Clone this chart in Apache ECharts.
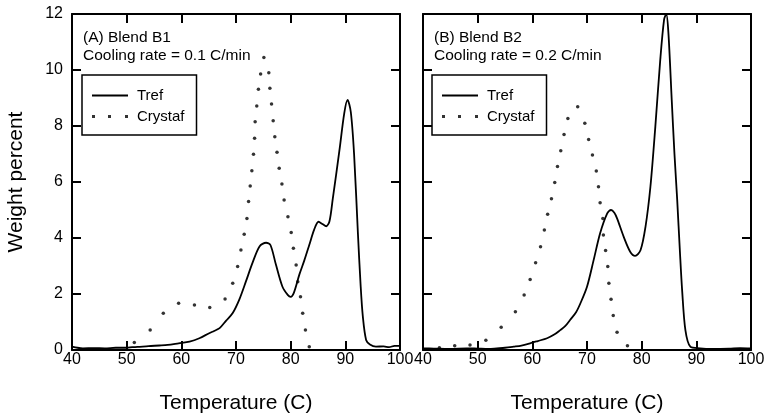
<!DOCTYPE html>
<html>
<head>
<meta charset="utf-8">
<script src="https://cdn.jsdelivr.net/npm/echarts@6/dist/echarts.min.js"></script>
<style>
  html, body { margin: 0; padding: 0; background: #fff; }
  #main { width: 766px; height: 415px; }
</style>
</head>
<body>
<div id="main"></div>
<script>
// panel A - Tref (solid line)
const trefA_T = [40, 41, 42, 44, 46, 48, 50, 51, 52, 54, 56, 57.5, 59.5, 61.5, 63.3, 65.1, 66, 67, 68.2, 69.4, 70.6, 71.8, 73.0, 74.3, 75.5, 76.3, 77.3, 78.5, 79.5, 80.0, 80.6, 81.6, 82.5, 83.4, 84.3, 85.1, 85.8, 86.5, 87.1, 87.7, 88.9, 89.8, 90.4, 91.0, 91.6, 92.3, 92.8, 93.2, 93.8, 94.5, 95.6, 97, 98, 99, 100]
const trefA_W = [0.12, 0.08, 0.06, 0.07, 0.06, 0.08, 0.08, 0.10, 0.11, 0.14, 0.16, 0.18, 0.24, 0.30, 0.42, 0.60, 0.68, 0.78, 1.05, 1.32, 1.80, 2.44, 3.10, 3.70, 3.83, 3.75, 3.05, 2.26, 1.96, 1.90, 2.05, 2.70, 3.20, 3.75, 4.30, 4.58, 4.50, 4.42, 4.60, 5.40, 7.10, 8.45, 8.93, 8.50, 7.00, 4.17, 2.30, 1.20, 0.36, 0.20, 0.12, 0.13, 0.10, 0.15, 0.15]

// panel A - Crystaf (dots)
const crysA_T = [51.4, 54.3, 56.7, 59.5, 62.4, 65.2, 68.0, 69.4, 70.3, 70.9, 71.5, 72.0, 72.3, 72.6, 72.9, 73.2, 73.4, 73.5, 73.8, 74.1, 74.5, 75.1, 76.0, 76.2, 76.5, 76.8, 77.1, 77.5, 77.9, 78.4, 78.8, 79.5, 80.1, 80.5, 81.0, 81.3, 81.8, 82.2, 82.7, 83.4]
const crysA_W = [0.27, 0.71, 1.31, 1.67, 1.61, 1.52, 1.82, 2.38, 2.98, 3.57, 4.13, 4.70, 5.30, 5.86, 6.40, 6.99, 7.56, 8.15, 8.71, 9.31, 9.86, 10.45, 9.90, 9.35, 8.79, 8.19, 7.62, 7.06, 6.49, 5.93, 5.36, 4.76, 4.20, 3.63, 3.04, 2.44, 1.90, 1.31, 0.71, 0.12]

// panel B - Tref
const trefB_T = [40, 42, 45, 48, 50, 52, 53.5, 55, 56.6, 58, 59.6, 61, 62.7, 64, 65.1, 66.0, 66.9, 68.0, 68.8, 70.0, 71.2, 72.4, 73.7, 74.4, 75.0, 75.5, 76.7, 77.9, 78.8, 79.8, 80.7, 81.6, 82.5, 83.4, 84.1, 84.5, 84.9, 85.5, 86.0, 86.5, 87.0, 87.4, 88.0, 88.9, 90.7, 93, 96, 98, 100]
const trefB_W = [0.06, 0.05, 0.04, 0.06, 0.05, 0.04, 0.06, 0.08, 0.12, 0.16, 0.24, 0.32, 0.42, 0.55, 0.71, 0.85, 1.07, 1.35, 1.67, 2.26, 3.20, 4.17, 4.88, 5.00, 4.90, 4.70, 4.05, 3.51, 3.36, 3.57, 4.40, 5.83, 7.98, 10.36, 11.80, 12.00, 11.30, 8.93, 7.00, 5.36, 3.50, 2.14, 0.71, 0.12, 0.06, 0.04, 0.05, 0.07, 0.06]

// panel B - Crystaf
const crysB_T = [43.0, 45.8, 48.6, 51.5, 54.3, 56.9, 58.5, 59.6, 60.6, 61.5, 62.2, 62.8, 63.5, 64.1, 64.6, 65.2, 65.8, 66.5, 68.3, 69.6, 70.3, 71.0, 71.7, 72.1, 72.4, 72.9, 73.0, 73.4, 73.8, 74.0, 74.4, 74.8, 75.5, 77.4]
const crysB_W = [0.08, 0.15, 0.18, 0.35, 0.81, 1.37, 1.96, 2.52, 3.12, 3.69, 4.29, 4.85, 5.40, 5.98, 6.55, 7.12, 7.70, 8.27, 8.69, 8.10, 7.52, 6.96, 6.39, 5.83, 5.26, 4.70, 4.11, 3.55, 2.98, 2.38, 1.81, 1.23, 0.63, 0.15]

const panelTitles = ['(A) Blend B1\nCooling rate = 0.1 C/min', '(B) Blend B2\nCooling rate = 0.2 C/min']

const zip = (xs, ys) => xs.map((x, i) => [x, ys[i]])

const FONT = 'Liberation Sans'
const chart = echarts.init(document.getElementById('main'))

// outerBoundsMode none: keep the plot boxes where they are (v6 would shrink them)
const grids = [
  { left: 72, top: 14, width: 328, height: 336, outerBoundsMode: 'none' },
  { left: 423, top: 14, width: 328, height: 336, outerBoundsMode: 'none' }
]

const tick = { show: true, inside: true, length: 9, lineStyle: { color: '#000', width: 2 } }
const line = { show: true, onZero: false, lineStyle: { color: '#000', width: 2 } }

let xAxes = []
let yAxes = []
grids.forEach((g, i) => {
  xAxes.push({
    type: 'value', gridIndex: i, position: 'bottom', min: 40, max: 100, interval: 10,
    axisLine: line, axisTick: tick, splitLine: { show: false },
    axisLabel: { color: '#000', fontFamily: FONT, fontSize: 16, margin: 2 },
    name: 'Temperature (C)', nameLocation: 'middle', nameGap: 43,
    nameTextStyle: { color: '#000', fontFamily: FONT, fontSize: 21 }
  })
  xAxes.push({
    type: 'value', gridIndex: i, position: 'top', min: 40, max: 100, interval: 10,
    axisLine: line, axisTick: tick, splitLine: { show: false }, axisLabel: { show: false }
  })
  yAxes.push({
    type: 'value', gridIndex: i, position: 'left', min: 0, max: 12, interval: 2,
    axisLine: line, axisTick: tick, splitLine: { show: false },
    axisLabel: { show: i === 0, color: '#000', fontFamily: FONT, fontSize: 16, margin: 9 },
    name: i === 0 ? 'Weight percent' : '', nameLocation: 'middle', nameGap: 45, nameRotate: 90,
    nameTextStyle: { color: '#000', fontFamily: FONT, fontSize: 21 }
  })
  yAxes.push({
    type: 'value', gridIndex: i, position: 'right', min: 0, max: 12, interval: 2,
    axisLine: line, axisTick: tick, splitLine: { show: false }, axisLabel: { show: false }
  })
})

const legendBase = {
  orient: 'vertical', top: 75, padding: [13, 12, 11, 10],
  borderColor: '#000', borderWidth: 1.5, backgroundColor: '#fff',
  itemWidth: 36, itemHeight: 10, itemGap: 6,
  textStyle: { color: '#000', fontFamily: FONT, fontSize: 15, padding: [0, 0, 0, 4] },
  data: [
    { name: 'Tref', icon: 'path://M0,0h36v2h-36z' },
    { name: 'Crystaf', icon: 'path://M0,0h3v3h-3z M16,0h3v3h-3z M33,0h3v3h-3z' }
  ],
  selectedMode: false
}

const titleStyle = { color: '#000', fontFamily: FONT, fontSize: 15.5, fontWeight: 'normal', lineHeight: 18 }

const option = {
  backgroundColor: '#fff',
  animation: false,
  title: [
    { text: panelTitles[0], left: 83, top: 29, padding: 0, textStyle: titleStyle },
    { text: panelTitles[1], left: 434, top: 29, padding: 0, textStyle: titleStyle }
  ],
  legend: [
    Object.assign({}, legendBase, { left: 82 }),
    Object.assign({}, legendBase, { left: 432 })
  ],
  grid: grids,
  xAxis: xAxes,
  yAxis: yAxes,
  series: [
    { name: 'Tref', type: 'line', xAxisIndex: 0, yAxisIndex: 0, data: zip(trefA_T, trefA_W),
      symbol: 'none', smooth: 0.3, lineStyle: { color: '#000', width: 1.8 }, itemStyle: { color: '#000' } },
    { name: 'Crystaf', type: 'scatter', xAxisIndex: 0, yAxisIndex: 0, data: zip(crysA_T, crysA_W),
      symbol: 'circle', symbolSize: 3.5, itemStyle: { color: '#000' } },
    { name: 'Tref', type: 'line', xAxisIndex: 2, yAxisIndex: 2, data: zip(trefB_T, trefB_W),
      symbol: 'none', smooth: 0.3, lineStyle: { color: '#000', width: 1.8 }, itemStyle: { color: '#000' } },
    { name: 'Crystaf', type: 'scatter', xAxisIndex: 2, yAxisIndex: 2, data: zip(crysB_T, crysB_W),
      symbol: 'circle', symbolSize: 3.5, itemStyle: { color: '#000' } }
  ]
}

option && chart.setOption(option)
</script>
</body>
</html>
